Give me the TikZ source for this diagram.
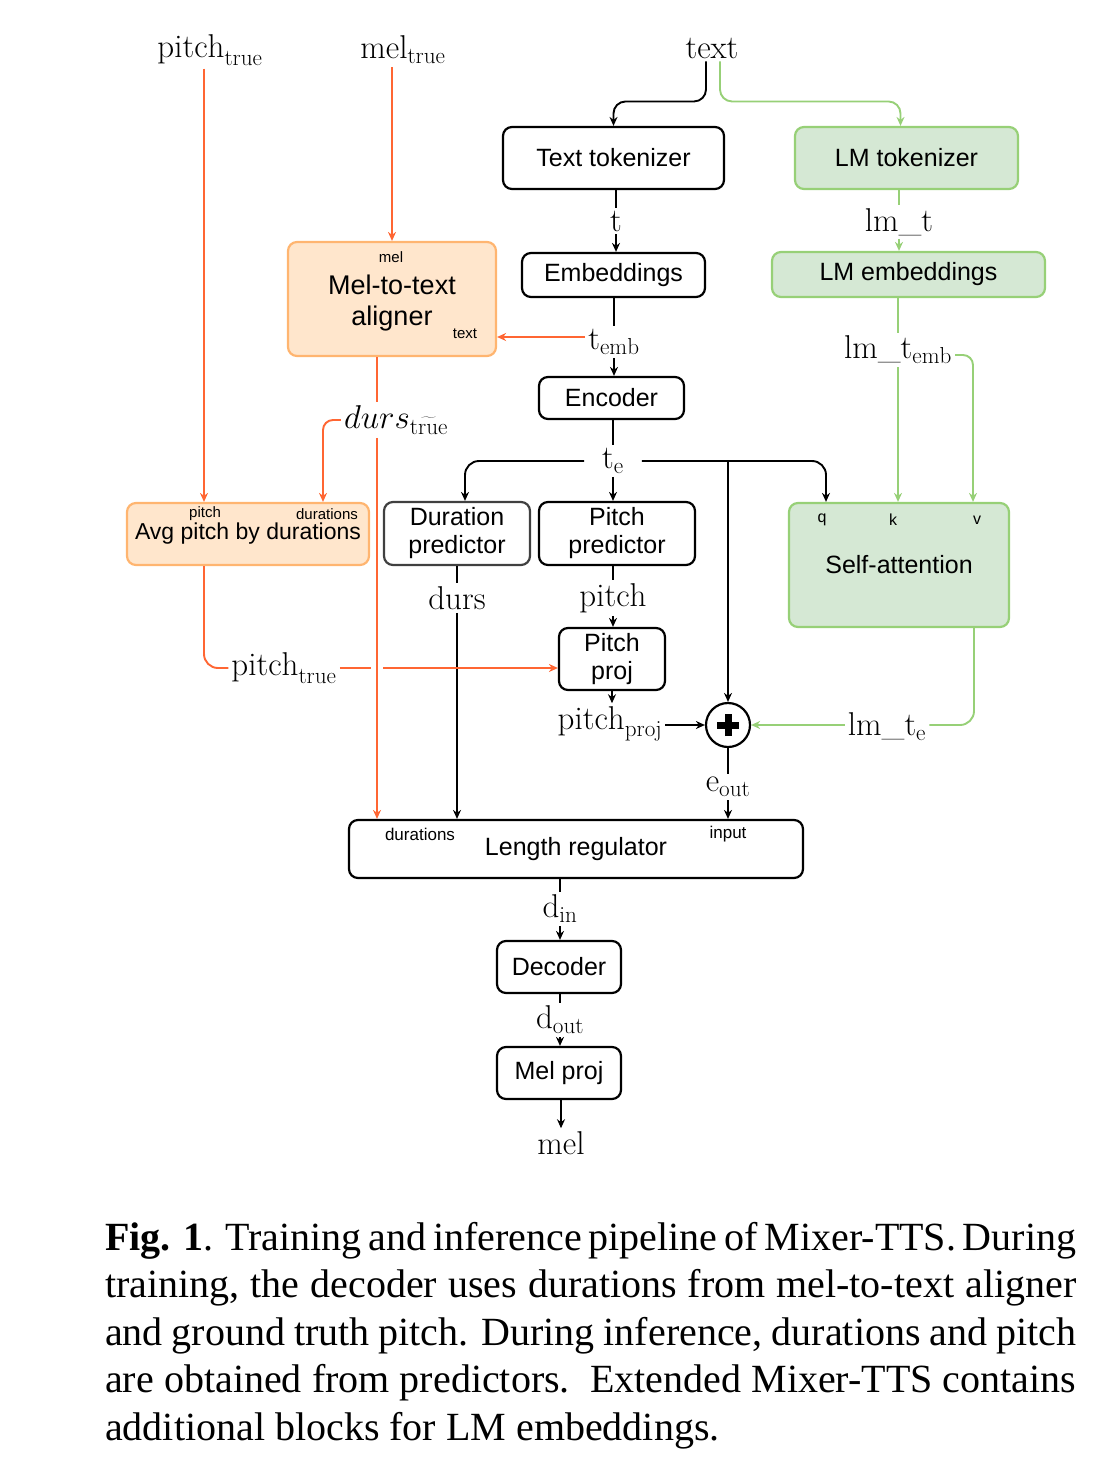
\RequirePackage{fix-cm}
\documentclass[tikz,border=0pt]{standalone}
\usepackage{fontspec}
\newfontfamily\helv{Liberation Sans}
\newfontfamily\capfont{Liberation Serif}
\usetikzlibrary{arrows.meta,calc}
\definecolor{orangeline}{HTML}{FF6633}
\definecolor{orangeedge}{HTML}{FFB570}
\definecolor{orangefill}{HTML}{FFE6CC}
\definecolor{greenline}{HTML}{97D077}
\definecolor{greenfill}{HTML}{D5E8D4}
\tikzset{
  box/.style={draw, line width=2.2pt, rounded corners=9pt, align=center, inner sep=0pt, font=\helv\fontsize{25}{28}\selectfont},
  obox/.style={box, draw=orangeedge, fill=orangefill},
  gbox/.style={box, draw=greenline, fill=greenfill},
  port/.style={inner sep=0pt, font=\helv\fontsize{15}{17}\selectfont},
  varlbl/.style={inner sep=3pt, font=\fontsize{33}{36}\selectfont},
  link/.style={line width=1.9pt},
  arr/.style={link, -{Stealth[length=9pt,width=8pt]}},
  olink/.style={link, draw=orangeline},
  oarr/.style={arr, draw=orangeline},
  glink/.style={link, draw=greenline},
  garr/.style={arr, draw=greenline},
}
\begin{document}
\begin{tikzpicture}[x=1pt,y=-1pt]
  \useasboundingbox (0,0) rectangle (1104,1466);

  \node[box, minimum width=221, minimum height=62] (ttok) at (613.5,158) {Text tokenizer};
  \node[gbox, minimum width=223, minimum height=62] (lmtok) at (906.5,158) {LM tokenizer};
  \node[box, minimum width=183, minimum height=44] (emb) at (613.5,275) {Embeddings};
  \node[gbox, minimum width=273, minimum height=45] (lmemb) at (908.5,274.5) {LM embeddings};
  \node[obox, minimum width=208, minimum height=114, font=\helv\fontsize{27}{31}\selectfont] (align) at (392,299) {\\[-4pt]Mel-to-text\\aligner};
  \node[port] at (391,257) {mel};
  \node[port] at (465,334) {text};
  \node[box, minimum width=145, minimum height=42] (enc) at (611.5,398) {Encoder};
  \node[obox, minimum width=242, minimum height=62, font=\helv\fontsize{23}{27}\selectfont] (avg) at (248,534) {Avg pitch by durations};
  \node[port] at (205,514) {pitch};
  \node[port] at (327,514) {durations};
  \node[box, draw=black!75, minimum width=146, minimum height=63] (dur) at (457,533.5) {Duration\\predictor};
  \node[box, minimum width=156, minimum height=63] (ppred) at (617,533.5) {Pitch\\predictor};
  \node[gbox, minimum width=220, minimum height=124] (sattn) at (899,565) {Self-attention};
  \node[port, font=\helv\fontsize{16}{18}\selectfont] at (822,520) {q};
  \node[port, font=\helv\fontsize{16}{18}\selectfont] at (893,520) {k};
  \node[port, font=\helv\fontsize{16}{18}\selectfont] at (977,520) {v};
  \node[box, minimum width=106, minimum height=62] (pproj) at (612,659) {Pitch\\proj};
  \node[circle, draw, line width=2.2pt, minimum size=44, inner sep=0pt] (plus) at (728,725) {};
  \draw[line width=7pt] ([xshift=-11pt]plus.center) -- ([xshift=11pt]plus.center);
  \draw[line width=7pt] ([yshift=-11pt]plus.center) -- ([yshift=11pt]plus.center);
  \node[box, minimum width=454, minimum height=58] (lreg) at (576,849) {Length regulator};
  \node[port, font=\helv\fontsize{17}{19}\selectfont] at (420,834) {durations};
  \node[port, font=\helv\fontsize{17}{19}\selectfont] at (728,834) {input};
  \node[box, minimum width=124, minimum height=52] (dec) at (559,967) {Decoder};
  \node[box, minimum width=124, minimum height=52] (melproj) at (559,1073) {Mel proj};

  \node[varlbl] (ptrue) at (210,50) {$\mathrm{pitch}_{\mathrm{true}}$};
  \node[varlbl] (mtrue) at (403,50) {$\mathrm{mel}_{\mathrm{true}}$};
  \node[varlbl] (text) at (712,48) {$\mathrm{text}$};
  \node[varlbl] (t) at (616,221) {$\mathrm{t}$};
  \node[varlbl] (lmt) at (899,222) {$\mathrm{lm}\_\mathrm{t}$};
  \node[varlbl] (temb) at (614,342) {$\mathrm{t}_{\mathrm{emb}}$};
  \node[varlbl] (lmtemb) at (898,350) {$\mathrm{lm}\_\mathrm{t}_{\mathrm{emb}}$};
  \node[varlbl] (durst) at (396,420) {$durs_{\widetilde{\mathrm{true}}}$};
  \node[varlbl, inner xsep=18pt] (te) at (613,461) {$\mathrm{t}_{\mathrm{e}}$};
  \node[varlbl] (durs) at (457,598) {$\mathrm{durs}$};
  \node[varlbl] (pitch) at (613,598) {$\mathrm{pitch}$};
  \node[varlbl] (ptrue2) at (284,668) {$\mathrm{pitch}_{\mathrm{true}}$};
  \node[varlbl] (pprojl) at (610,724) {$\mathrm{pitch}_{\mathrm{proj}}$};
  \node[varlbl] (lmte) at (887,727) {$\mathrm{lm}\_\mathrm{t}_{\mathrm{e}}$};
  \node[varlbl] (eout) at (728,787) {$\mathrm{e}_{\mathrm{out}}$};
  \node[varlbl] (din) at (560,909) {$\mathrm{d}_{\mathrm{in}}$};
  \node[varlbl] (dout) at (560,1020) {$\mathrm{d}_{\mathrm{out}}$};
  \node[varlbl] (mel) at (561,1143) {$\mathrm{mel}$};

  \coordinate (avgp) at ([xshift=-44pt]avg.north);
  \coordinate (avgd) at ([xshift=75pt]avg.north);
  \coordinate (lrdur) at ([xshift=-199pt]lreg.north);
  \coordinate (jump) at (ptrue2.east -| lrdur);

  \draw[arr, rounded corners=12pt] ([xshift=-6pt]text.south) -- ++(0,40) -| (ttok.north);
  \draw[garr, rounded corners=12pt] ([xshift=8pt]text.south) -- ++(0,40) -| ([xshift=-6pt]lmtok.north);
  \draw[link] (ttok.south -| t.north) -- (t.north);
  \draw[arr] (t.south) -- (t.south |- emb.north);
  \draw[glink] (lmtok.south -| lmt.north) -- (lmt.north);
  \draw[garr] (lmt.south) -- (lmt.south |- lmemb.north);
  \draw[link] (emb.south -| temb.north) -- (temb.north);
  \draw[arr] (temb.south) -- (temb.south |- enc.north);
  \draw[oarr] ([yshift=5pt]temb.west) -- ([yshift=5pt]temb.west -| align.east);
  \draw[glink] (lmemb.south -| lmtemb.north) -- (lmtemb.north);
  \draw[garr] (lmtemb.south) -- (lmtemb.south |- sattn.north);
  \draw[garr, rounded corners=10pt] ([yshift=-5pt]lmtemb.east) -| ([xshift=74pt]sattn.north);

  \draw[oarr] (mtrue.south -| align.north) -- (align.north);
  \draw[oarr] (ptrue.south -| avgp) -- (avgp);
  \draw[olink] (align.south -| lrdur) -- (lrdur |- durst.north);
  \draw[oarr, rounded corners=10pt] (durst.west) -| (avgd);

  \draw[link] (enc.south -| te.north) -- (te.north);
  \draw[arr] (te.south) -- (te.south |- ppred.north);
  \draw[arr, rounded corners=14pt] (te.west) -| ([xshift=8pt]dur.north);
  \draw[arr, rounded corners=14pt] (te.east) -| ([xshift=-73pt]sattn.north);
  \draw[arr] (te.east -| plus.north) -- (plus.north);

  \draw[link] (dur.south -| durs.north) -- (durs.north);
  \draw[arr] (durs.south) -- (durs.south |- lreg.north);
  \draw[link] (ppred.south -| pitch.north) -- (pitch.north);
  \draw[arr] (pitch.south) -- (pitch.south |- pproj.north);

  \draw[olink, rounded corners=14pt] (avg.south -| avgp) |- (ptrue2.west);
  \draw[olink] (ptrue2.east) -- ([xshift=-6pt]jump);
  \draw[oarr] ([xshift=6pt]jump) -- (jump -| pproj.west);
  \draw[oarr] (durst.south -| lrdur) -- (lrdur);

  \draw[arr] (pproj.south) -- (pproj.south |- pprojl.north);
  \draw[arr] (pprojl.east |- plus.west) -- (plus.west);
  \draw[glink, rounded corners=14pt] ([xshift=75pt]sattn.south) |- (lmte.east |- plus.east);
  \draw[garr] (lmte.west |- plus.east) -- (plus.east);
  \draw[link] (plus.south) -- (eout.north);
  \draw[arr] (eout.south) -- (eout.south |- lreg.north);

  \draw[link] (lreg.south -| din.north) -- (din.north);
  \draw[arr] (din.south) -- (din.south |- dec.north);
  \draw[link] (dec.south -| dout.north) -- (dout.north);
  \draw[arr] (dout.south) -- (dout.south |- melproj.north);
  \draw[arr] (melproj.south -| mel.north) -- (mel.north);

  \node[anchor=north west, text width=971pt, align=justify, inner sep=0pt,
        font=\capfont\fontsize{40}{47.5}\selectfont] (caption) at (105,1222)
    {\textbf{Fig. 1}. Training and inference pipeline of Mixer-TTS. During\linebreak
     training, the decoder uses durations from mel-to-text aligner\linebreak
     and ground truth pitch. During inference, durations and pitch\linebreak
     are obtained from predictors.\ \ Extended Mixer-TTS contains\linebreak
     additional blocks for LM embeddings.};
\end{tikzpicture}
\end{document}
